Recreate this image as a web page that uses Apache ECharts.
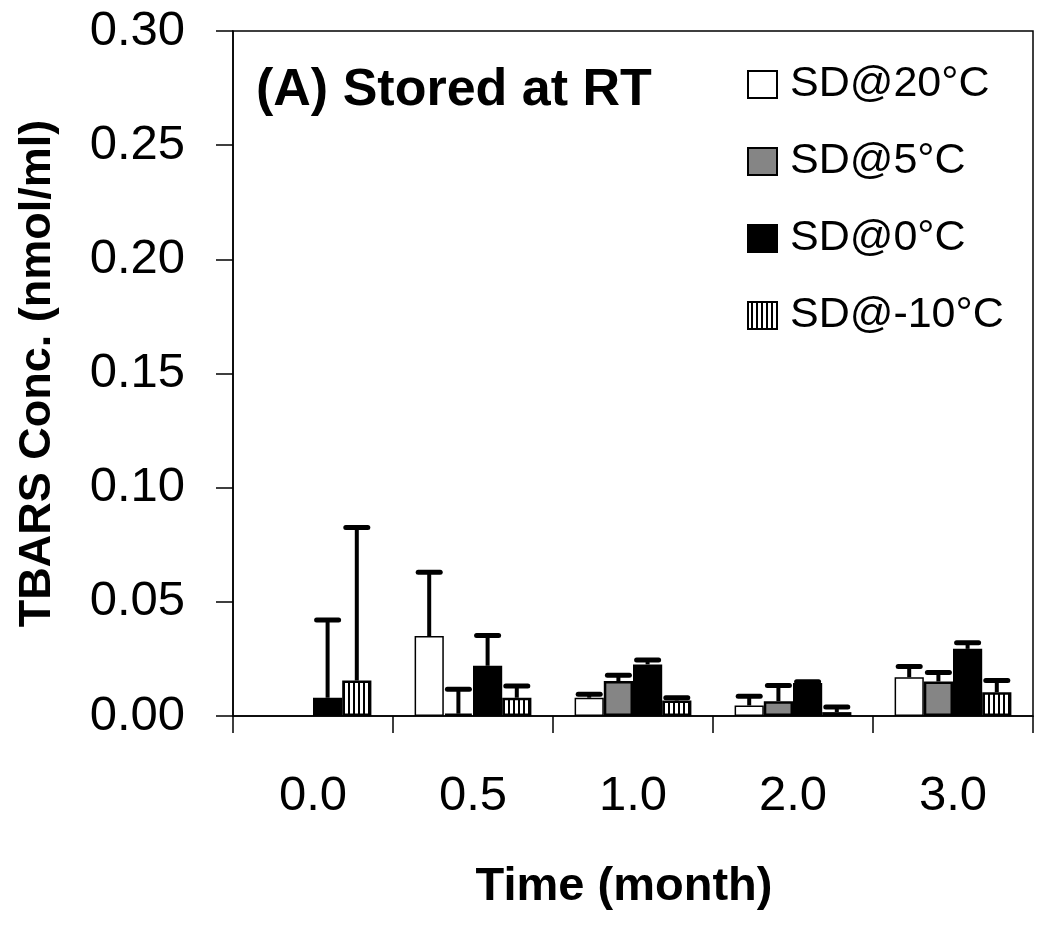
<!DOCTYPE html>
<html>
<head>
<meta charset="utf-8">
<script src="https://cdn.jsdelivr.net/npm/echarts@6/dist/echarts.min.js"></script>
<style>
html,body{margin:0;padding:0;background:#fff;}
#chart{width:1050px;height:935px;}
</style>
</head>
<body>
<div id="chart"></div>
<script>
const categories = ['0.0', '0.5', '1.0', '2.0', '3.0'];
const seriesNames = ['SD@20°C', 'SD@5°C', 'SD@0°C', 'SD@-10°C'];
const sd20 = [null, 0.035, 0.008, 0.0046, 0.017];
const sd20Err = [null, 0.028, 0.0015, 0.004, 0.0047];
const sd5 = [null, 0.001, 0.0153, 0.0065, 0.0151];
const sd5Err = [null, 0.0107, 0.0026, 0.0069, 0.004];
const sd0 = [0.008, 0.022, 0.0226, 0.0144, 0.0294];
const sd0Err = [0.034, 0.0133, 0.0019, 0.0006, 0.0027];
const sdm10 = [0.0156, 0.008, 0.0068, 0.0017, 0.0104];
const sdm10Err = [0.067, 0.0051, 0.0012, 0.0022, 0.0051];
const yTicks = [0, 0.05, 0.10, 0.15, 0.20, 0.25, 0.30];

const FONT = '"Liberation Sans", Arial, sans-serif';
const CAT_GAP = 0.27;

// vertical stripe pattern
const pc = document.createElement('canvas');
pc.width = 5; pc.height = 10;
const pctx = pc.getContext('2d');
pctx.fillStyle = '#fff'; pctx.fillRect(0, 0, 5, 10);
pctx.fillStyle = '#000'; pctx.fillRect(3, 0, 2, 10);

const values = [sd20, sd5, sd0, sdm10];
const errors = [sd20Err, sd5Err, sd0Err, sdm10Err];
const styles = [
  {color: '#ffffff', borderColor: '#000', borderWidth: 1.5},
  {color: '#858585', borderColor: '#000', borderWidth: 2.5},
  {color: '#000000', borderColor: '#000', borderWidth: 1.5},
  {color: {image: pc, repeat: 'repeat'}, borderColor: '#000', borderWidth: 2.5}
];

const series = [];
values.forEach((vals, k) => {
  series.push({
    name: seriesNames[k],
    type: 'bar',
    data: vals,
    barGap: '0%',
    barCategoryGap: (CAT_GAP * 100) + '%',
    itemStyle: styles[k],
    z: 2
  });
});
values.forEach((vals, k) => {
  const data = [];
  vals.forEach((v, i) => { if (v !== null) data.push([i, v, errors[k][i]]); });
  series.push({
    type: 'custom',
    name: seriesNames[k] + ' err',
    z: 3,
    encode: {x: 0, y: 1},
    data: data,
    renderItem: function (params, api) {
      const i = api.value(0), v = api.value(1), e = api.value(2);
      const c0 = api.coord([i, v]);
      const c1 = api.coord([i, v + e]);
      const bw = api.size([1, 0])[0] * (1 - CAT_GAP) / 4;
      const x = c0[0] + (k - 1.5) * bw;
      return {
        type: 'group',
        children: [
          {type: 'line', shape: {x1: x, y1: c0[1], x2: x, y2: c1[1]}, style: {stroke: '#000', lineWidth: 4}},
          {type: 'line', shape: {x1: x - 11, y1: c1[1], x2: x + 11, y2: c1[1]}, style: {stroke: '#000', lineWidth: 5, lineCap: 'round'}}
        ]
      };
    }
  });
});

const chart = echarts.init(document.getElementById('chart'));
chart.setOption({
  animation: false,
  backgroundColor: '#fff',
  grid: {left: 233, right: 17, top: 31, bottom: 219, show: true, borderColor: '#000', borderWidth: 1.5, backgroundColor: 'transparent'},
  title: {
    text: '(A) Stored at RT',
    left: 251, top: 60,
    textStyle: {fontFamily: FONT, fontWeight: 'bold', fontSize: 52, color: '#000'}
  },
  legend: {
    data: seriesNames,
    orient: 'vertical',
    left: 742, top: 58,
    itemWidth: 29, itemHeight: 27,
    itemGap: 34,
    icon: 'rect',
    textStyle: {fontFamily: FONT, fontSize: 43, lineHeight: 42, color: '#000', padding: [0, 0, 0, 8]}
  },
  xAxis: {
    type: 'category',
    data: categories,
    boundaryGap: true,
    name: 'Time (month)',
    nameLocation: 'middle',
    nameGap: 148,
    nameTextStyle: {fontFamily: FONT, fontWeight: 'bold', fontSize: 47, color: '#000', padding: [0, 18, 0, 0]},
    axisLine: {lineStyle: {color: '#000', width: 1.5}},
    axisTick: {show: true, inside: false, length: 17, interval: 0, lineStyle: {color: '#000', width: 1.5}},
    axisLabel: {margin: 56, fontFamily: FONT, fontSize: 49, color: '#000', interval: 0},
    splitLine: {show: false}
  },
  yAxis: {
    type: 'value',
    min: 0, max: 0.3, interval: 0.05,
    name: 'TBARS Conc. (nmol/ml)',
    nameLocation: 'middle',
    nameGap: 173,
    nameTextStyle: {fontFamily: FONT, fontWeight: 'bold', fontSize: 45, color: '#000'},
    axisLine: {show: true, lineStyle: {color: '#000', width: 1.5}},
    axisTick: {show: true, inside: false, length: 17, lineStyle: {color: '#000', width: 1.5}},
    axisLabel: {
      margin: 48, fontFamily: FONT, fontSize: 49, color: '#000',
      formatter: function (v) {
        const t = yTicks.find(x => Math.abs(x - v) < 1e-9);
        return (t !== undefined ? t : v).toFixed(2);
      }
    },
    splitLine: {show: false}
  },
  series: series
});
</script>
</body>
</html>
